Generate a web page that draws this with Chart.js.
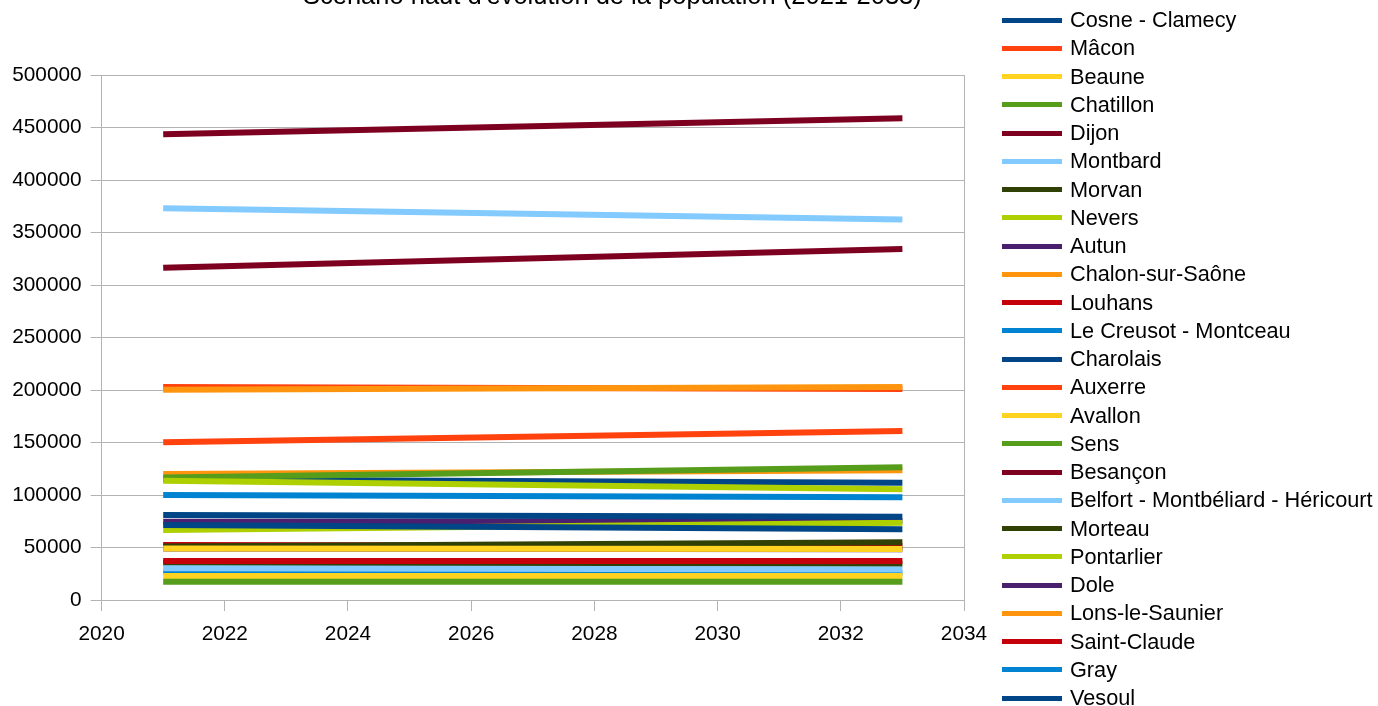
<!DOCTYPE html>
<html>
<head>
<meta charset="utf-8">
<script src="https://cdn.jsdelivr.net/npm/chart.js@4.4.1/dist/chart.umd.min.js"></script>
<style>
  body { margin: 0; background: #fff; font-family: "Liberation Sans", Arial, sans-serif; }
  #wrap { position: relative; width: 1378px; height: 706px; overflow: hidden; }
  #chartBox { position: absolute; left: 0; top: 0; width: 1378px; height: 706px; }
  #title { position: absolute; left: 303px; top: -16.6px; font-size: 25.5px; line-height: 1; white-space: nowrap; color: #000; }
  #legend { position: absolute; left: 1002px; top: 6px; }
  .item { height: 28.25px; display: flex; align-items: center; font-size: 21.7px; white-space: nowrap; color: #000; }
  .swatch { width: 60px; height: 5px; margin-right: 8px; flex: none; }
</style>
</head>
<body>
<div id="wrap">
  <div id="chartBox"><canvas id="chart"></canvas></div>
  <div id="title">Scénario haut d'évolution de la population (2021-2033)</div>
  <div id="legend"></div>
</div>
<script>
// data
var years = [2021, 2033];
var zones = ['Cosne - Clamecy', 'Mâcon', 'Beaune', 'Chatillon', 'Dijon', 'Montbard', 'Morvan', 'Nevers',
    'Autun', 'Chalon-sur-Saône', 'Louhans', 'Le Creusot - Montceau', 'Charolais', 'Auxerre', 'Avallon',
    'Sens', 'Besançon', 'Belfort - Montbéliard - Héricourt', 'Morteau', 'Pontarlier', 'Dole',
    'Lons-le-Saunier', 'Saint-Claude', 'Gray', 'Vesoul'];
var pop2021 = [71400, 150200, 49200, 17500, 443500, 30200, 51100, 113600,
    49000, 200300, 37100, 100000, 81000, 202900, 22900,
    116800, 316500, 373000, 35500, 66700, 74500,
    120000, 52400, 26700, 114800];
var pop2033 = [67300, 161000, 48600, 17500, 458700, 29200, 55000, 105400,
    48400, 202900, 37100, 98000, 79400, 201000, 22900,
    126400, 334300, 362500, 34500, 73600, 75300,
    123500, 51400, 26000, 111700];
var xTicks = [2020, 2022, 2024, 2026, 2028, 2030, 2032, 2034];
var yTicks = [0, 50000, 100000, 150000, 200000, 250000, 300000, 350000, 400000, 450000, 500000];

var palette = ['#004586', '#ff420e', '#ffd320', '#579d1c', '#7e0021', '#83caff',
    '#314004', '#aecf00', '#4b1f6f', '#ff950e', '#c5000b', '#0084d1'];
var gridGray = '#b3b3b3';

function buildLegend()
{
    var box = document.getElementById('legend');
    zones.forEach(function(name, i) {
        var row = document.createElement('div');
        row.className = 'item';
        var sw = document.createElement('span');
        sw.className = 'swatch';
        sw.style.background = palette[i % palette.length];
        var label = document.createElement('span');
        label.textContent = name;
        row.appendChild(sw);
        row.appendChild(label);
        box.appendChild(row);
    });
}

function displayChart()
{
    var datasets = zones.map(function(name, i) {
        return {
            label: name,
            data: [{x: years[0], y: pop2021[i]}, {x: years[1], y: pop2033[i]}],
            borderColor: palette[i % palette.length],
            backgroundColor: palette[i % palette.length],
            borderWidth: 6,
            borderCapStyle: 'butt',
            pointRadius: 0,
            tension: 0
        };
    });

    var axisFont = {family: '"Liberation Sans", Arial, sans-serif', size: 20.8};
    var ctx = document.getElementById('chart').getContext('2d');
    new Chart(ctx, {
        type: 'line',
        data: {datasets: datasets},
        options: {
            responsive: true,
            maintainAspectRatio: false,
            animation: false,
            layout: {padding: {top: 75, right: 414, bottom: 48, left: 3.2}},
            plugins: {
                legend: {display: false},
                title: {display: false},
                tooltip: {enabled: false}
            },
            scales: {
                x: {
                    type: 'linear',
                    min: xTicks[0],
                    max: xTicks[xTicks.length - 1],
                    afterBuildTicks: function(axis) {
                        axis.ticks = xTicks.map(function(v) { return {value: v}; });
                    },
                    ticks: {
                        color: '#000',
                        font: axisFont,
                        padding: 11,
                        maxRotation: 0,
                        callback: function(v) { return String(v); }
                    },
                    grid: {
                        color: function(c) {
                            return (c.tick && c.tick.value === xTicks[xTicks.length - 1]) ? gridGray : 'rgba(0,0,0,0)';
                        },
                        tickColor: gridGray,
                        tickLength: 11,
                        lineWidth: 1
                    },
                    border: {color: gridGray}
                },
                y: {
                    min: yTicks[0],
                    max: yTicks[yTicks.length - 1],
                    afterBuildTicks: function(axis) {
                        axis.ticks = yTicks.map(function(v) { return {value: v}; });
                    },
                    ticks: {
                        color: '#000',
                        font: axisFont,
                        padding: 9,
                        callback: function(v) { return String(v); }
                    },
                    grid: {
                        color: gridGray,
                        tickColor: gridGray,
                        tickLength: 11,
                        lineWidth: 1
                    },
                    border: {color: gridGray}
                }
            }
        }
    });
}

buildLegend();
displayChart();
</script>
</body>
</html>
